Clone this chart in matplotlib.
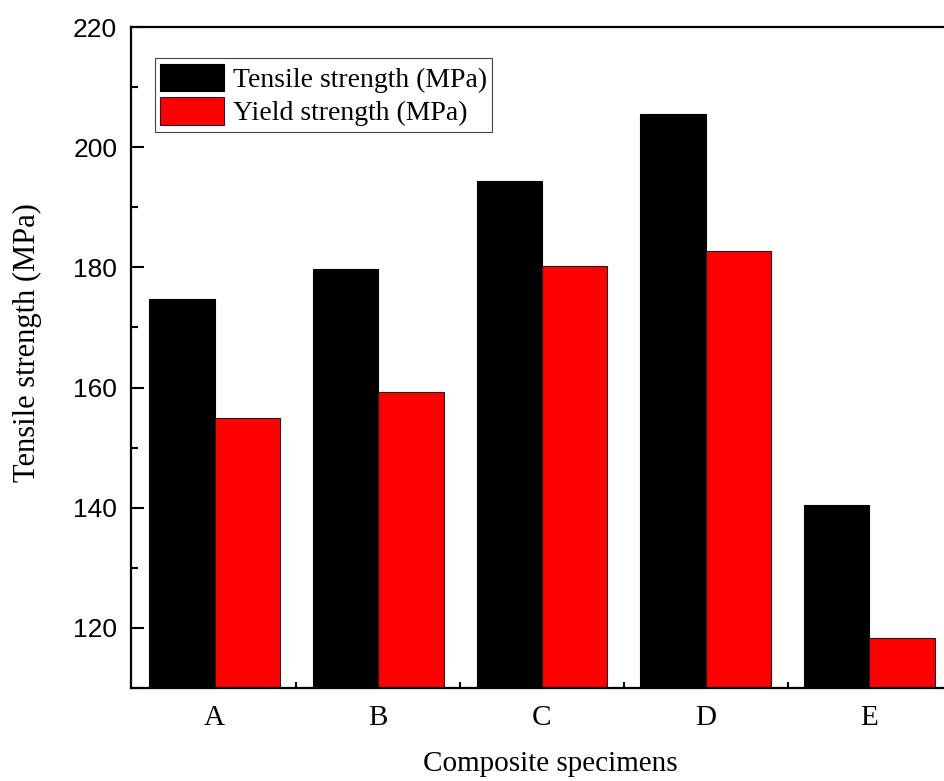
import numpy as np
import matplotlib.pyplot as plt
from matplotlib.ticker import MultipleLocator

# data
specimens = ['A', 'B', 'C', 'D', 'E']
tensile = [174.8, 179.7, 194.3, 205.5, 140.5]
yield_strength = [155.0, 159.2, 180.2, 182.7, 118.3]

serif = 'Liberation Serif'
sans = 'Liberation Sans'

fig = plt.figure(figsize=(9.44, 7.81), dpi=100)
ax = fig.add_axes([0.1388, 0.1191, 0.8707, 0.8463])

x = np.arange(len(specimens))
w = 0.4
ax.bar(x - w / 2, tensile, w, color='black', edgecolor='black', linewidth=0.8,
       label='Tensile strength (MPa)')
ax.bar(x + w / 2, yield_strength, w, color='#ff0000', edgecolor='#202020', linewidth=0.8,
       label='Yield strength (MPa)')

ax.set_xlim(-0.51, 4.51)
ax.set_ylim(110, 220)

ax.yaxis.set_major_locator(MultipleLocator(20))
ax.yaxis.set_minor_locator(MultipleLocator(10))
ax.set_xticks(x)
ax.set_xticklabels(specimens, fontfamily=serif, fontsize=21)
ax.set_xticks(x[:-1] + 0.5, minor=True)

ax.tick_params(axis='y', which='major', direction='in', length=9, width=1.5,
               pad=10, labelsize=19)
ax.tick_params(axis='y', which='minor', direction='in', length=5, width=1.5)
ax.tick_params(axis='x', which='major', length=0, pad=12)
ax.tick_params(axis='x', which='minor', direction='in', length=4, width=1.5)
for lab in ax.get_yticklabels():
    lab.set_fontfamily(sans)

for s in ax.spines.values():
    s.set_linewidth(1.6)

ax.set_ylabel('Tensile strength (MPa)', fontfamily=serif, fontsize=22)
ax.yaxis.set_label_coords(-0.108, 0.523)
ax.set_xlabel('Composite specimens', fontfamily=serif, fontsize=21)
ax.xaxis.set_label_coords(0.51, -0.095)

leg = ax.legend(loc='upper left', bbox_to_anchor=(0.029, 0.953), borderaxespad=0,
                prop={'family': serif, 'size': 20}, fancybox=False, framealpha=1,
                edgecolor='#444444', handlelength=2.3, handleheight=1.15,
                labelspacing=0.15, borderpad=0.2, handletextpad=0.3)
leg.get_frame().set_linewidth(0.8)

fig.savefig('out.png', dpi=100)
